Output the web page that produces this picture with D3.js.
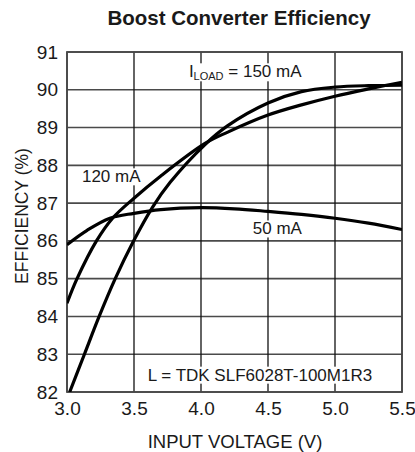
<!DOCTYPE html>
<html>
<head>
<meta charset="utf-8">
<script src="https://cdn.jsdelivr.net/npm/d3@7"></script>
<style>
  body { margin: 0; background: #fff; }
  text { font-family: "Liberation Sans", Arial, sans-serif; fill: #1a1a1a; }
</style>
</head>
<body>
<svg id="chart" width="415" height="452"></svg>
<script>
// values
const xTicks = [3.0, 3.5, 4.0, 4.5, 5.0, 5.5]
const yTicks = [82, 83, 84, 85, 86, 87, 88, 89, 90, 91]

const volt150 = [3.02, 3.13, 3.24, 3.36, 3.49, 3.64, 3.77, 4.03, 4.2, 4.5, 4.75, 5.0, 5.25, 5.5]
const eff150 = [82.0, 83.0, 84.0, 85.0, 85.95, 86.9, 87.55, 88.55, 89.05, 89.65, 89.95, 90.07, 90.11, 90.12]

const volt120 = [3.0, 3.075, 3.22, 3.34, 3.5, 3.7, 4.03, 4.2, 4.5, 4.75, 5.0, 5.26, 5.5]
const eff120 = [84.35, 85.0, 86.0, 86.6, 87.13, 87.72, 88.58, 88.88, 89.33, 89.6, 89.83, 90.03, 90.2]

const volt50 = [3.0, 3.15, 3.32, 3.5, 3.7, 4.0, 4.25, 4.5, 4.75, 5.0, 5.25, 5.5]
const eff50 = [85.9, 86.28, 86.6, 86.73, 86.83, 86.88, 86.85, 86.78, 86.7, 86.6, 86.47, 86.3]

const curveLabels = ["I|LOAD| = 150 mA", "120 mA", "50 mA", "L = TDK SLF6028T-100M1R3"]
const labelX = [4.33, 3.33, 4.57, 4.44]
const labelY = [90.33, 87.55, 86.17, 82.3]

const width = 415
const height = 452
const margin = {top: 52, right: 13, bottom: 60, left: 67}

const svg = d3.select("#chart")

const x = d3.scaleLinear().domain([3.0, 5.5]).range([margin.left, width - margin.right])
const y = d3.scaleLinear().domain([82, 91]).range([height - margin.bottom, margin.top])

svg.append("text")
  .attr("x", 239)
  .attr("y", 25)
  .attr("text-anchor", "middle")
  .style("font-size", "20.5px")
  .style("font-weight", "bold")
  .text("Boost Converter Efficiency")

// grid
svg.append("g")
  .selectAll("line")
  .data(yTicks)
  .join("line")
  .attr("x1", x(3.0)).attr("x2", x(5.5))
  .attr("y1", d => y(d)).attr("y2", d => y(d))
  .attr("stroke", "#4a4a4a")
  .attr("stroke-width", 1.6)

svg.append("g")
  .selectAll("line")
  .data(xTicks)
  .join("line")
  .attr("x1", d => x(d)).attr("x2", d => x(d))
  .attr("y1", y(82)).attr("y2", y(91))
  .attr("stroke", "#111")
  .attr("stroke-width", 1.3)

svg.append("rect")
  .attr("x", x(3.0)).attr("y", y(91))
  .attr("width", x(5.5) - x(3.0)).attr("height", y(82) - y(91))
  .attr("fill", "none")
  .attr("stroke", "#4a4a4a")
  .attr("stroke-width", 1.8)

// axes labels
const xAxis = d3.axisBottom(x).tickValues(xTicks).tickFormat(d3.format(".1f")).tickSize(0).tickPadding(10)
const gx = svg.append("g").attr("transform", `translate(0,${y(82)})`).call(xAxis)
gx.select(".domain").remove()
gx.selectAll("text").style("font-size", "19px").attr("fill", "#1a1a1a")

const yAxis = d3.axisLeft(y).tickValues(yTicks).tickFormat(d3.format("d")).tickSize(0).tickPadding(9)
const gy = svg.append("g").attr("transform", `translate(${x(3.0)},0)`).call(yAxis)
gy.select(".domain").remove()
gy.selectAll("text").style("font-size", "19px").attr("fill", "#1a1a1a")

svg.append("text")
  .attr("x", 235)
  .attr("y", 448)
  .attr("text-anchor", "middle")
  .style("font-size", "18.5px")
  .text("INPUT VOLTAGE (V)")

svg.append("text")
  .attr("transform", `translate(28,216) rotate(-90)`)
  .attr("text-anchor", "middle")
  .style("font-size", "17.5px")
  .text("EFFICIENCY (%)")

// curves
const clip = svg.append("clipPath").attr("id", "plot-clip")
  .append("rect")
  .attr("x", x(3.0)).attr("y", y(91))
  .attr("width", x(5.5) - x(3.0)).attr("height", y(82) - y(91))

const line = d3.line()
  .x(d => x(d[0]))
  .y(d => y(d[1]))
  .curve(d3.curveCatmullRom)

const series = [
  d3.zip(volt150, eff150),
  d3.zip(volt120, eff120),
  d3.zip(volt50, eff50)
]

// annotation labels with white boxes behind them (grid hidden under text)
const labels = svg.append("g")
curveLabels.forEach((txt, i) => {
  const g = labels.append("g")
  const t = g.append("text")
    .attr("x", x(labelX[i]))
    .attr("y", y(labelY[i]))
    .attr("text-anchor", "middle")
    .style("font-size", "17px")
  const parts = txt.split("|")
  if (parts.length > 1) {
    t.append("tspan").text(parts[0])
    t.append("tspan").attr("dy", 3).style("font-size", "11px").text(parts[1])
    t.append("tspan").attr("dy", -3).text(parts[2])
  } else {
    t.text(txt)
  }
  const b = t.node().getBBox()
  g.insert("rect", "text")
    .attr("x", b.x - 2).attr("y", b.y + 1)
    .attr("width", b.width + 4).attr("height", b.height - 2)
    .attr("fill", "#fff")
})

svg.append("g")
  .attr("clip-path", "url(#plot-clip)")
  .selectAll("path")
  .data(series)
  .join("path")
  .attr("d", line)
  .attr("fill", "none")
  .attr("stroke", "#000")
  .attr("stroke-width", 3.2)
</script>
</body>
</html>
